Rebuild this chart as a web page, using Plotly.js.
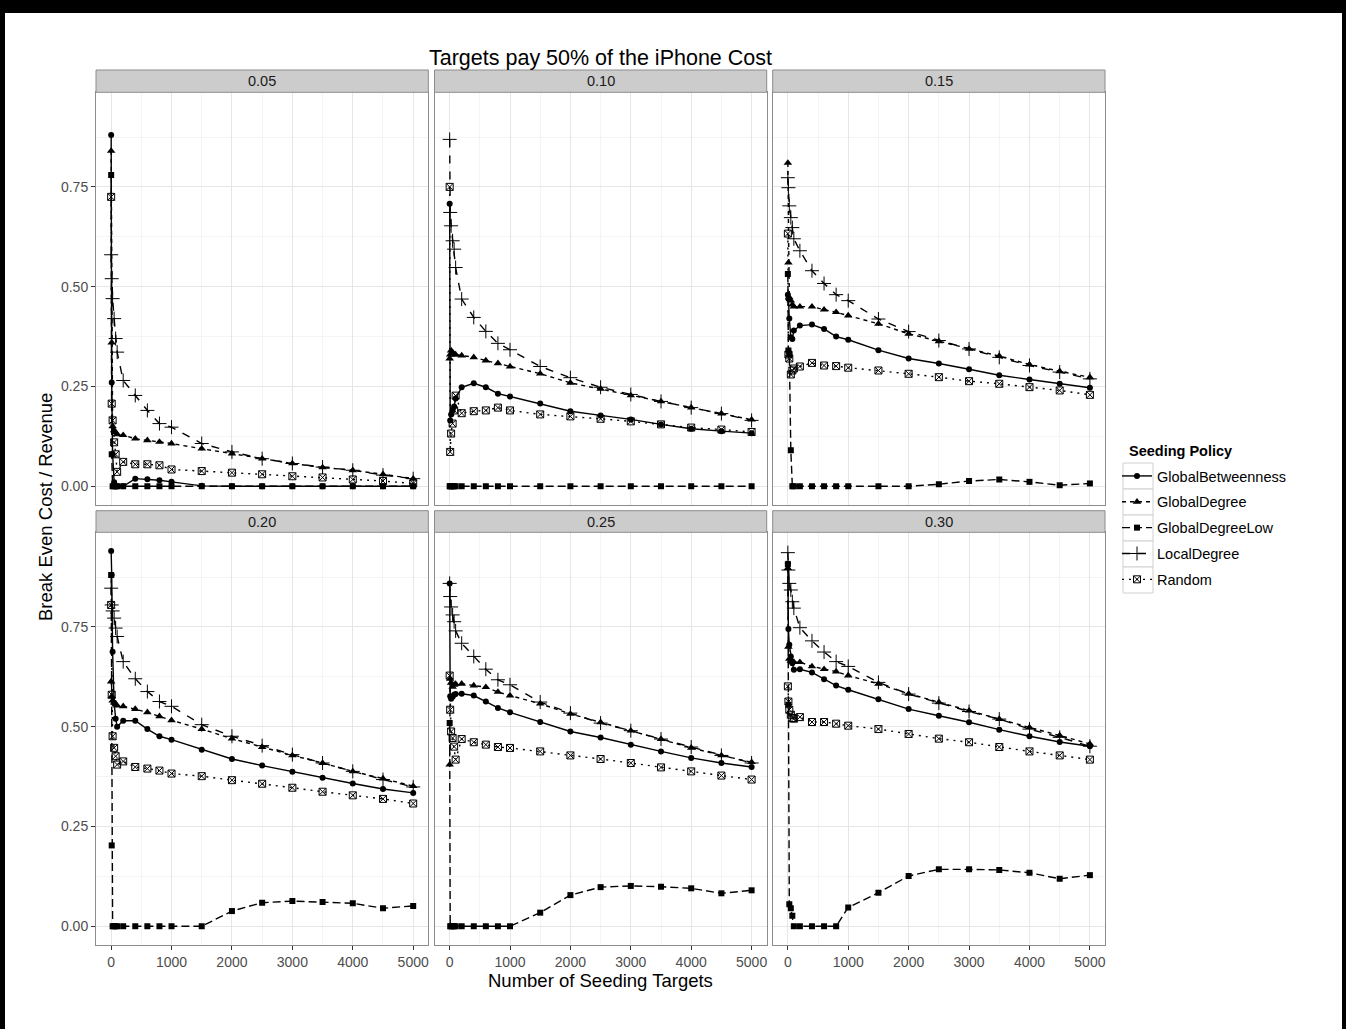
<!DOCTYPE html>
<html>
<head>
<meta charset="utf-8">
<script src="https://cdn.plot.ly/plotly-3.0.1.min.js"></script>
<style>
html,body{margin:0;padding:0;background:#fff;}
#plot{width:1346px;height:1029px;}
</style>
</head>
<body>
<div id="plot"></div>
<script>
// ---- data ----
var seedingTargets = [1, 10, 25, 50, 75, 100, 200, 400, 600, 800, 1000, 1500, 2000, 2500, 3000, 3500, 4000, 4500, 5000];
var panelLabels = ["0.05", "0.10", "0.15", "0.20", "0.25", "0.30"];
var policies = ["GlobalBetweenness", "GlobalDegree", "GlobalDegreeLow", "LocalDegree", "Random"];

var p05_GlobalBetweenness = [0.88, 0.26, 0.08, 0.01, 0, 0, 0, 0.019, 0.0175, 0.015, 0.011, 0.001, 0, 0, 0, 0, 0, 0, 0];
var p05_GlobalDegree      = [0.84, 0.36, 0.15, 0.14, 0.135, 0.13, 0.128, 0.119, 0.115, 0.111, 0.107, 0.094, 0.082, 0.069, 0.057, 0.047, 0.04, 0.03, 0.019];
var p05_GlobalDegreeLow   = [0.78, 0.08, 0, 0, 0, 0, 0, 0, 0, 0, 0, 0, 0, 0, 0, 0, 0, 0, 0];
var p05_LocalDegree       = [0.58, 0.52, 0.47, 0.42, 0.37, 0.336, 0.265, 0.2275, 0.19, 0.157, 0.148, 0.107, 0.086, 0.069, 0.057, 0.048, 0.04, 0.028, 0.019];
var p05_Random            = [0.725, 0.207, 0.165, 0.11, 0.08, 0.036, 0.061, 0.055, 0.055, 0.0525, 0.042, 0.038, 0.034, 0.03, 0.025, 0.022, 0.017, 0.013, 0.007];

var p10_GlobalBetweenness = [0.708, 0.165, 0.18, 0.19, 0.2, 0.22, 0.248, 0.258, 0.248, 0.232, 0.225, 0.207, 0.188, 0.1775, 0.1675, 0.155, 0.144, 0.138, 0.133];
var p10_GlobalDegree      = [0.32, 0.33, 0.34, 0.335, 0.33, 0.33, 0.3275, 0.323, 0.315, 0.308, 0.3, 0.282, 0.259, 0.244, 0.2275, 0.2125, 0.197, 0.182, 0.1667];
var p10_GlobalDegreeLow   = [0, 0, 0, 0, 0, 0, 0, 0, 0, 0, 0, 0, 0, 0, 0, 0, 0, 0, 0];
var p10_LocalDegree       = [0.869, 0.686, 0.6525, 0.615, 0.594, 0.548, 0.469, 0.423, 0.388, 0.358, 0.342, 0.3, 0.272, 0.248, 0.23, 0.2125, 0.197, 0.182, 0.165];
var p10_Random            = [0.75, 0.086, 0.132, 0.157, 0.19, 0.227, 0.183, 0.188, 0.19, 0.197, 0.19, 0.18, 0.175, 0.169, 0.1625, 0.155, 0.147, 0.142, 0.136];

var p15_GlobalBetweenness = [0.48, 0.47, 0.42, 0.373, 0.369, 0.39, 0.4025, 0.405, 0.394, 0.375, 0.367, 0.341, 0.32, 0.3075, 0.293, 0.278, 0.2675, 0.2567, 0.2467];
var p15_GlobalDegree      = [0.81, 0.56, 0.473, 0.465, 0.455, 0.45, 0.45, 0.45, 0.4425, 0.436, 0.4275, 0.407, 0.382, 0.363, 0.344, 0.326, 0.305, 0.288, 0.273];
var p15_GlobalDegreeLow   = [0.532, 0.34, 0.33, 0.09, 0, 0, 0, 0, 0, 0, 0, 0, 0, 0.005, 0.013, 0.017, 0.011, 0.0025, 0.007];
var p15_LocalDegree       = [0.773, 0.748, 0.7025, 0.673, 0.648, 0.62, 0.59, 0.54, 0.508, 0.48, 0.465, 0.419, 0.3875, 0.365, 0.344, 0.323, 0.3025, 0.286, 0.269];
var p15_Random            = [0.633, 0.33, 0.32, 0.28, 0.29, 0.295, 0.3, 0.309, 0.3025, 0.301, 0.297, 0.29, 0.2817, 0.2733, 0.2633, 0.2567, 0.2483, 0.24, 0.229];

var p20_GlobalBetweenness = [0.94, 0.88, 0.688, 0.56, 0.52, 0.5, 0.515, 0.515, 0.494, 0.476, 0.4675, 0.4425, 0.419, 0.4025, 0.387, 0.372, 0.3575, 0.344, 0.334];
var p20_GlobalDegree      = [0.613, 0.576, 0.565, 0.56, 0.555, 0.553, 0.551, 0.544, 0.536, 0.526, 0.516, 0.494, 0.47, 0.449, 0.428, 0.409, 0.388, 0.37, 0.351];
var p20_GlobalDegreeLow   = [0.88, 0.2025, 0, 0, 0, 0, 0, 0, 0, 0, 0, 0, 0.038, 0.059, 0.063, 0.061, 0.0575, 0.045, 0.051];
var p20_LocalDegree       = [0.847, 0.805, 0.79, 0.772, 0.747, 0.726, 0.663, 0.62, 0.588, 0.563, 0.551, 0.505, 0.476, 0.4525, 0.43, 0.409, 0.388, 0.3675, 0.349];
var p20_Random            = [0.805, 0.58, 0.476, 0.447, 0.426, 0.405, 0.413, 0.399, 0.395, 0.39, 0.3825, 0.376, 0.366, 0.357, 0.347, 0.337, 0.328, 0.319, 0.3075];

var p25_GlobalBetweenness = [0.859, 0.576, 0.57, 0.575, 0.58, 0.582, 0.5825, 0.578, 0.563, 0.547, 0.536, 0.5117, 0.488, 0.473, 0.455, 0.438, 0.4217, 0.409, 0.399];
var p25_GlobalDegree      = [0.405, 0.62, 0.61, 0.6, 0.605, 0.607, 0.6075, 0.603, 0.599, 0.587, 0.578, 0.5575, 0.532, 0.511, 0.49, 0.469, 0.447, 0.428, 0.411];
var p25_GlobalDegreeLow   = [0.509, 0, 0, 0, 0, 0, 0, 0, 0, 0, 0, 0.034, 0.078, 0.098, 0.101, 0.099, 0.095, 0.0825, 0.09];
var p25_LocalDegree       = [0.859, 0.826, 0.8, 0.78, 0.763, 0.74, 0.709, 0.676, 0.644, 0.6175, 0.605, 0.5617, 0.534, 0.509, 0.49, 0.469, 0.449, 0.428, 0.409];
var p25_Random            = [0.628, 0.5425, 0.488, 0.4717, 0.45, 0.4175, 0.469, 0.461, 0.455, 0.449, 0.4467, 0.438, 0.428, 0.419, 0.409, 0.398, 0.388, 0.3775, 0.3675];

var p30_GlobalBetweenness = [0.909, 0.745, 0.705, 0.676, 0.659, 0.6425, 0.644, 0.636, 0.619, 0.603, 0.5925, 0.569, 0.544, 0.5275, 0.511, 0.4925, 0.476, 0.4617, 0.451];
var p30_GlobalDegree      = [0.897, 0.7, 0.67, 0.665, 0.663, 0.662, 0.6617, 0.651, 0.644, 0.638, 0.628, 0.6075, 0.5825, 0.561, 0.54, 0.519, 0.498, 0.478, 0.4567];
var p30_GlobalDegreeLow   = [0.907, 0.555, 0.055, 0.045, 0.026, 0, 0, 0, 0, 0, 0.047, 0.084, 0.126, 0.1425, 0.1425, 0.141, 0.134, 0.119, 0.128];
var p30_LocalDegree       = [0.936, 0.8925, 0.859, 0.8425, 0.813, 0.797, 0.748, 0.715, 0.687, 0.663, 0.651, 0.611, 0.5817, 0.559, 0.538, 0.519, 0.494, 0.4733, 0.451];
var p30_Random            = [0.601, 0.563, 0.5425, 0.53, 0.5217, 0.52, 0.524, 0.5117, 0.5117, 0.5075, 0.5025, 0.494, 0.4817, 0.47, 0.461, 0.449, 0.438, 0.428, 0.4175];

var panelData = [
  [p05_GlobalBetweenness, p05_GlobalDegree, p05_GlobalDegreeLow, p05_LocalDegree, p05_Random],
  [p10_GlobalBetweenness, p10_GlobalDegree, p10_GlobalDegreeLow, p10_LocalDegree, p10_Random],
  [p15_GlobalBetweenness, p15_GlobalDegree, p15_GlobalDegreeLow, p15_LocalDegree, p15_Random],
  [p20_GlobalBetweenness, p20_GlobalDegree, p20_GlobalDegreeLow, p20_LocalDegree, p20_Random],
  [p25_GlobalBetweenness, p25_GlobalDegree, p25_GlobalDegreeLow, p25_LocalDegree, p25_Random],
  [p30_GlobalBetweenness, p30_GlobalDegree, p30_GlobalDegreeLow, p30_LocalDegree, p30_Random]
];

// ---- styles ----
var W = 1346, H = 1029;
var FONT = "Liberation Sans, Arial, sans-serif";
var styles = [
  {dash: "solid",        symbol: "circle",          size: 6},
  {dash: "4px,4px",      symbol: "triangle-up",     size: 7.5},
  {dash: "8px,4px",      symbol: "square",          size: 6},
  {dash: "8px,8px",      symbol: "cross-thin-open", size: 10},
  {dash: "2px,5px",      symbol: "square-x-open",   size: 7}
];

var cols = [[96, 428.3], [434.5, 766.7], [772.7, 1105]];
var rows = [[92.3, 505], [532.3, 945]];
var strips = [[70, 92.3], [510.7, 532.3]];

function fx(px) { return px / W; }
function fy(py) { return 1 - py / H; }

var traces = [];
var layout = {
  width: W, height: H,
  margin: {l: 0, r: 0, t: 0, b: 0},
  paper_bgcolor: "#fff",
  plot_bgcolor: "#fff",
  font: {family: FONT, color: "#000"},
  title: {
    text: "Targets pay 50% of the iPhone Cost",
    x: 600.5 / W, y: 1 - 57 / H, xref: "container", yref: "container",
    xanchor: "center", yanchor: "middle",
    font: {family: FONT, size: 21.5, color: "#000"}
  },
  showlegend: true,
  legend: {
    x: 1117 / W, y: 1 - 460 / H, xanchor: "left", yanchor: "top",
    bgcolor: "rgba(0,0,0,0)", borderwidth: 0,
    font: {family: FONT, size: 14.5, color: "#000"},
    traceorder: "grouped", tracegroupgap: 4, itemwidth: 30
  },
  shapes: [],
  annotations: []
};

for (var p = 0; p < 6; p++) {
  var r = Math.floor(p / 3), c = p % 3;
  var xn = p === 0 ? "x" : "x" + (p + 1);
  var yn = p === 0 ? "y" : "y" + (p + 1);
  var xk = p === 0 ? "xaxis" : "xaxis" + (p + 1);
  var yk = p === 0 ? "yaxis" : "yaxis" + (p + 1);
  var bottom = r === 1, left = c === 0;
  layout[xk] = {
    domain: [fx(cols[c][0]), fx(cols[c][1])],
    anchor: yn,
    range: [-250, 5250],
    tickmode: "linear", tick0: 0, dtick: 1000,
    showticklabels: bottom,
    ticks: bottom ? "outside" : "", ticklen: 4, tickwidth: 1, tickcolor: "#333",
    tickfont: {family: FONT, size: 14, color: "#4d4d4d"},
    showgrid: true, gridcolor: "#e6e6e6", gridwidth: 1,
    minor: {dtick: 500, tick0: 0, showgrid: true, gridcolor: "#f4f4f4", gridwidth: 1, ticks: ""},
    zeroline: false,
    showline: true, mirror: true, linecolor: "#8c8c8c", linewidth: 1
  };
  layout[yk] = {
    domain: [fy(rows[r][1]), fy(rows[r][0])],
    anchor: xn,
    range: [-0.047, 0.987],
    tickmode: "linear", tick0: 0, dtick: 0.25, tickformat: ".2f",
    showticklabels: left,
    ticks: left ? "outside" : "", ticklen: 4, tickwidth: 1, tickcolor: "#333",
    tickfont: {family: FONT, size: 14, color: "#4d4d4d"},
    showgrid: true, gridcolor: "#e6e6e6", gridwidth: 1,
    minor: {dtick: 0.125, tick0: 0, showgrid: true, gridcolor: "#f4f4f4", gridwidth: 1, ticks: ""},
    zeroline: false,
    showline: true, mirror: true, linecolor: "#8c8c8c", linewidth: 1
  };
  // strip
  layout.shapes.push({
    type: "rect", xref: "paper", yref: "paper",
    x0: fx(cols[c][0]), x1: fx(cols[c][1]), y0: fy(strips[r][1]), y1: fy(strips[r][0]),
    fillcolor: "#cccccc", line: {color: "#8c8c8c", width: 1}
  });
  layout.annotations.push({
    xref: "paper", yref: "paper",
    x: fx((cols[c][0] + cols[c][1]) / 2), y: fy((strips[r][0] + strips[r][1]) / 2),
    text: panelLabels[p], showarrow: false, xanchor: "center", yanchor: "middle",
    font: {family: FONT, size: 14.5, color: "#1a1a1a"}
  });
  for (var s = 0; s < 5; s++) {
    var st = styles[s];
    traces.push({
      type: "scatter", mode: "lines+markers",
      x: seedingTargets, y: panelData[p][s],
      xaxis: xn, yaxis: yn,
      name: policies[s], legendgroup: policies[s], showlegend: p === 0,
      line: {color: "#000", width: 1.4, dash: st.dash},
      marker: {symbol: st.symbol, size: st.size, color: "#000",
               line: {color: "#000", width: (s >= 3 ? 1 : 0)}},
      cliponaxis: true
    });
  }
}

// legend title and key boxes (ggplot style)
layout.annotations.push({
  xref: "paper", yref: "paper", x: fx(1127), y: fy(451),
  text: "<b>Seeding Policy</b>", showarrow: false, xanchor: "left", yanchor: "middle",
  font: {family: FONT, size: 14.5, color: "#000"}
});
for (var k = 0; k < 5; k++) {
  layout.shapes.push({
    type: "rect", xref: "paper", yref: "paper", layer: "below",
    x0: fx(1123), x1: fx(1153), y0: fy(463 + 26 * (k + 1)), y1: fy(463 + 26 * k),
    fillcolor: "#fff", line: {color: "#d0d0d0", width: 1}
  });
}

// axis titles
layout.annotations.push({
  xref: "paper", yref: "paper", x: fx(600.5), y: fy(980),
  text: "Number of Seeding Targets", showarrow: false,
  xanchor: "center", yanchor: "middle",
  font: {family: FONT, size: 18.5, color: "#000"}
});
layout.annotations.push({
  xref: "paper", yref: "paper", x: fx(45), y: fy(507),
  text: "Break Even Cost / Revenue", showarrow: false, textangle: -90,
  xanchor: "center", yanchor: "middle",
  font: {family: FONT, size: 18.5, color: "#000"}
});

// black frame around the picture
layout.shapes.push({type: "rect", xref: "paper", yref: "paper", x0: 0, x1: 1, y0: fy(13), y1: 1, fillcolor: "#000", line: {width: 0}, layer: "above"});
layout.shapes.push({type: "rect", xref: "paper", yref: "paper", x0: 0, x1: fx(5), y0: 0, y1: 1, fillcolor: "#000", line: {width: 0}, layer: "above"});
layout.shapes.push({type: "rect", xref: "paper", yref: "paper", x0: fx(1342), x1: 1, y0: 0, y1: 1, fillcolor: "#000", line: {width: 0}, layer: "above"});

Plotly.newPlot("plot", traces, layout, {staticPlot: true, displayModeBar: false});
</script>
</body>
</html>
